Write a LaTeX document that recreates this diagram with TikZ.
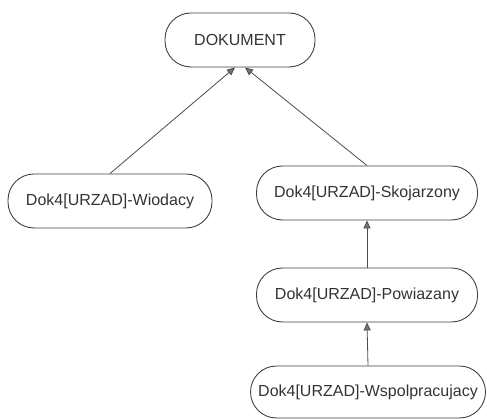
\documentclass[tikz,border=0pt]{standalone}
\usepackage{fontspec}
\setmainfont{Liberation Sans}
\usetikzlibrary{positioning}
\usetikzlibrary{arrows.meta}

\tikzset{
	klasa/.style = {draw = black!75, line width = 0.9pt, rounded corners = 26pt, minimum height = 54pt, inner sep = 0pt, text = black!80, font = \fontsize{16}{19}\selectfont},
	dziedzy/.style = {draw = black!70, line width = 0.8pt, -{Triangle[length = 8pt, width = 7pt, fill = black!55]}}
}

\begin{document}
\begin{tikzpicture}[x = 1pt, y = 1pt]
					\useasboundingbox (0, 0) rectangle (487, 419);
					\node [klasa, minimum width = 150pt] (dok) at (240, 379) {DOKUMENT};
					\node [klasa, minimum width = 204pt] (wio) at (110, 218) {Dok4[URZAD]-Wiodacy};
					\node [klasa, minimum width = 221pt] (sko) at (367, 226) {Dok4[URZAD]-Skojarzony};
					\node [klasa, minimum width = 221pt] (pow) at (367, 124) {Dok4[URZAD]-Powiazany};
					\node [klasa, minimum width = 235pt, minimum height = 52pt] (wsp) at (368, 27) {Dok4[URZAD]-Wspolpracujacy};
					\draw [dziedzy] (wio.north) -- ([xshift = -5pt] dok.south);
					\draw [dziedzy] (sko.north) -- ([xshift = 5pt] dok.south);
					\draw [dziedzy] (pow.north) -- (sko.south);
					\draw [dziedzy] (wsp.north) -- (pow.south);
				\end{tikzpicture}
\end{document}
